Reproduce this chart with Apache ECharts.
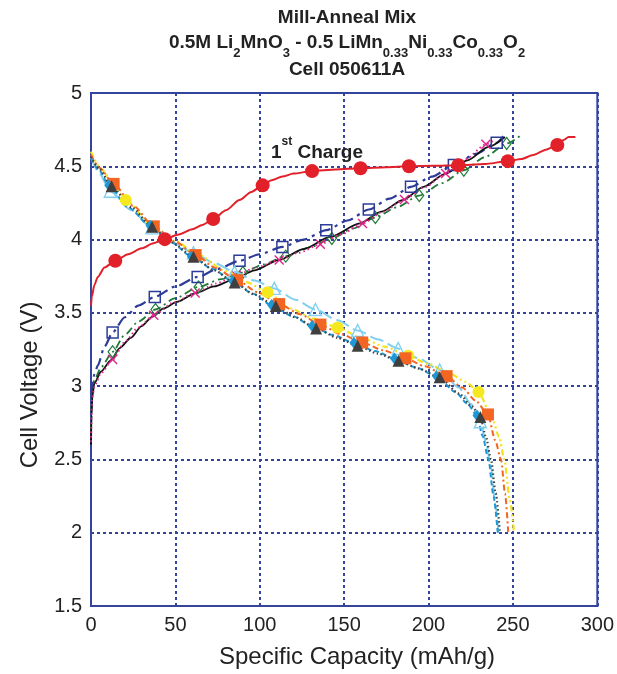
<!DOCTYPE html>
<html>
<head>
<meta charset="utf-8">
<script src="https://cdn.jsdelivr.net/npm/echarts@6/dist/echarts.min.js"></script>
<style>
html,body{margin:0;padding:0;background:#fff;}
#chart{width:617px;height:674px;}
</style>
</head>
<body>
<div id="chart"></div>
<script>
// ---------- DATA ----------
const xTicks = [0, 50, 100, 150, 200, 250, 300];
const yTicks = [1.5, 2, 2.5, 3, 3.5, 4, 4.5, 5];

// 1st charge (red, filled circles)
const charge1Curve = [[0,3.55],[0.5,3.61],[2,3.69],[4,3.745],[8,3.81],[14.4,3.855],[22,3.9],[30,3.94],[37,3.975],[43.7,4.003],[52,4.035],[60,4.07],[66,4.1],[72.4,4.14],[80,4.2],[88,4.27],[95,4.325],[101.7,4.37],[107,4.405],[113.4,4.43],[120,4.45],[131,4.467],[145,4.478],[159.7,4.487],[175,4.494],[188.4,4.5],[203,4.503],[217.7,4.507],[233,4.515],[247,4.535],[255,4.55],[262,4.577],[270,4.615],[276.3,4.645],[280,4.68],[283,4.7],[287,4.7]];
const charge1Marks = [[14.4,3.855],[43.7,4.003],[72.4,4.14],[101.7,4.37],[131,4.467],[159.7,4.487],[188.4,4.5],[217.7,4.507],[247,4.535],[276.3,4.645]];

// discharge curves
const disDarkCurve = [[0,4.565],[5,4.48],[12.2,4.364],[24,4.22],[36.2,4.087],[48,3.98],[60.7,3.882],[73,3.79],[85.1,3.707],[97,3.625],[109.5,3.546],[121,3.47],[133.4,3.394],[146,3.33],[158,3.275],[170,3.222],[182.2,3.173],[194,3.12],[206.6,3.06],[218,2.95],[225.8,2.86],[230.7,2.79],[234,2.654],[237,2.5],[239.8,2.27],[242.3,2.0]];
const disDarkMarks = [[12.2,4.364],[36.2,4.087],[60.7,3.882],[85.1,3.707],[109.5,3.546],[133.4,3.394],[158,3.275],[182.2,3.173],[206.6,3.06],[230.7,2.79]];

const disOrangeCurve = [[0,4.58],[5,4.49],[13.4,4.38],[25,4.23],[37.2,4.09],[50,3.985],[62,3.894],[74,3.805],[86.5,3.723],[99,3.64],[111.5,3.56],[124,3.49],[135.9,3.42],[148,3.355],[160.7,3.298],[173,3.245],[186.3,3.19],[198,3.135],[210.7,3.068],[220,2.99],[228,2.9],[235.2,2.807],[239.5,2.63],[243,2.496],[245.3,2.268],[247.2,2.006]];
const disOrangeMarks = [[13.4,4.38],[37.2,4.09],[62,3.894],[86.5,3.723],[111.5,3.56],[135.9,3.42],[160.7,3.298],[186.3,3.19],[210.7,3.068],[235.2,2.807]];

const disYellowCurve = [[0,4.6],[6,4.48],[13,4.39],[20.6,4.27],[35,4.11],[50,3.99],[63,3.9],[80,3.785],[92,3.71],[104.6,3.64],[118,3.53],[132,3.46],[146.1,3.4],[160,3.33],[174,3.27],[188,3.207],[200,3.15],[212,3.09],[222,3.03],[229.6,2.96],[237.5,2.79],[241.8,2.654],[244.9,2.5],[248.2,2.222],[250.6,2.006]];
const disYellowMarks = [[20.6,4.27],[104.6,3.64],[146.1,3.4],[188,3.207],[229.6,2.96]];

const disLightCurve = [[0,4.56],[5,4.45],[11.4,4.33],[24,4.2],[36,4.08],[48,3.98],[60.7,3.91],[73,3.84],[85,3.78],[97,3.72],[108.6,3.667],[121,3.59],[133,3.523],[146,3.45],[158,3.38],[170,3.32],[182,3.257],[194,3.19],[206.6,3.11],[218,2.99],[225,2.88],[230.7,2.757],[234,2.62],[237,2.45],[239.5,2.2],[241.4,2.0]];
const disLightMarks = [[11.4,4.33],[36,4.08],[60.7,3.91],[85,3.78],[108.6,3.667],[133,3.523],[158,3.38],[182,3.257],[206.6,3.11],[230.7,2.757]];

const disCyanCurve = [[0,4.555],[5,4.47],[10.5,4.37],[22,4.22],[35,4.095],[47,3.985],[59.5,3.885],[72,3.8],[84,3.715],[96,3.63],[107,3.553],[119,3.48],[131,3.41],[143,3.35],[155.8,3.296],[168,3.24],[179.8,3.189],[192,3.13],[204.7,3.068],[216,2.96],[223,2.88],[228.7,2.8],[232,2.66],[235.5,2.5],[238.5,2.25],[241,2.0]];
const disCyanMarks = [[10.5,4.37],[35,4.095],[59.5,3.885],[84,3.715],[107,3.553],[131,3.41],[155.8,3.296],[179.8,3.189],[204.7,3.068],[228.7,2.8]];

// later charge curves
const chBlueCurve = [[0,2.95],[0.5,3.0],[2,3.08],[4,3.14],[8,3.27],[12.8,3.366],[20,3.47],[28,3.55],[37.8,3.609],[50,3.68],[63.2,3.745],[75,3.8],[88,3.855],[100,3.9],[113.4,3.95],[126,4.0],[139.4,4.064],[152,4.13],[164.6,4.205],[177,4.28],[189.6,4.36],[202,4.43],[215,4.508],[228,4.585],[240.4,4.66],[244.3,4.705]];
const chBlueMarks = [[12.8,3.366],[37.8,3.609],[63.2,3.745],[88,3.855],[113.4,3.95],[139.4,4.064],[164.6,4.205],[189.6,4.36],[215,4.508],[240.4,4.66]];

const chBlackCurve = [[0,2.6],[0.3,2.8],[0.8,2.93],[2,3.02],[6,3.1],[11.8,3.177],[17,3.26],[23.6,3.33],[30,3.41],[36.2,3.473],[43,3.53],[50.9,3.575],[62,3.635],[73,3.68],[84.1,3.725],[97,3.79],[111.5,3.862],[126,3.935],[141.7,4.018],[159.3,4.11],[172,4.19],[184.8,4.27],[197,4.36],[210.1,4.45],[223,4.54],[235.5,4.632],[245.3,4.7]];

const chPinkCurve = [[0,2.62],[0.5,2.9],[2,3.0],[6,3.09],[12.8,3.182],[20,3.3],[28,3.4],[37.2,3.484],[49,3.57],[61.7,3.636],[74,3.7],[86,3.755],[98,3.81],[111.5,3.86],[123,3.91],[135.9,3.968],[148,4.035],[160.9,4.11],[173,4.19],[185.7,4.273],[198,4.36],[210.1,4.45],[222,4.55],[234,4.65],[239,4.68]];
const chPinkMarks = [[12.8,3.182],[37.2,3.484],[61.7,3.636],[86,3.755],[111.5,3.86],[135.9,3.968],[160.9,4.11],[185.7,4.273],[210.1,4.45],[234,4.65]];

const chGreenCurve = [[0,2.7],[0.5,2.95],[2,3.04],[6,3.13],[12.8,3.234],[20,3.35],[28,3.44],[38.2,3.523],[50,3.6],[63.7,3.677],[77,3.73],[90,3.775],[102,3.83],[115.4,3.887],[129,3.945],[142.7,4.007],[155,4.075],[168.5,4.15],[181,4.22],[194.5,4.3],[208,4.385],[220.9,4.473],[233,4.56],[246.3,4.655],[254,4.705]];
const chGreenMarks = [[12.8,3.234],[38.2,3.523],[63.7,3.677],[90,3.775],[115.4,3.887],[142.7,4.007],[168.5,4.15],[194.5,4.3],[220.9,4.473],[246.3,4.655]];

// ---------- CHART ----------
const FONT = 'Liberation Sans, Arial, Helvetica, sans-serif';
const GRID_BLUE = '#33449f';
const crossPath = 'path://M1,0 L5,4 L9,0 L10,1 L6,5 L10,9 L9,10 L5,6 L1,10 L0,9 L4,5 L0,1 Z';

function curve(data, color, type, width, z) {
  return { type: 'line', data: data, symbol: 'none', showSymbol: false, smooth: 0.25, smoothMonotone: 'x',
    lineStyle: { color: color, width: width, type: type }, z: z, silent: true };
}
function marks(data, symbol, size, fill, stroke, bw, z) {
  return { type: 'scatter', data: data, symbol: symbol, symbolSize: size, symbolKeepAspect: true,
    itemStyle: { color: fill, borderColor: stroke, borderWidth: bw, opacity: 1 }, z: z, silent: true };
}
const HOLLOW = 'rgba(255,255,255,0)';

const chart = echarts.init(document.getElementById('chart'), null, { renderer: 'canvas' });
chart.setOption({
  animation: false,
  backgroundColor: '#ffffff',
  grid: { left: 91, top: 93, right: 14, bottom: 68, show: true, borderColor: GRID_BLUE, borderWidth: 2, containLabel: false },
  xAxis: {
    type: 'value', min: xTicks[0], max: xTicks[xTicks.length - 1], interval: 50,
    axisLine: { show: true, lineStyle: { color: GRID_BLUE, width: 2 } },
    axisTick: { show: false },
    axisLabel: { color: '#222', fontSize: 20, fontFamily: FONT, margin: 9 },
    splitLine: { show: true, lineStyle: { color: GRID_BLUE, width: 2, type: [3, 3] } }
  },
  yAxis: {
    type: 'value', min: yTicks[0], max: yTicks[yTicks.length - 1], interval: 0.5,
    axisLine: { show: true, lineStyle: { color: GRID_BLUE, width: 2 } },
    axisTick: { show: false },
    axisLabel: { color: '#222', fontSize: 20, fontFamily: FONT, margin: 9 },
    splitLine: { show: true, lineStyle: { color: GRID_BLUE, width: 2, type: [3, 3] } }
  },
  series: [
    curve(chGreenCurve, '#1f7a37', [8, 4, 2, 4], 1.8, 3),
    curve(chBlueCurve, '#2d3c98', [12, 5, 3, 5], 2.2, 3),
    curve(chBlackCurve, '#111111', 'solid', 1.8, 3),
    curve(chPinkCurve, '#e0258a', [1.5, 3], 2, 3),
    marks(chGreenMarks, 'diamond', [9, 12], HOLLOW, '#1f7a37', 1.2, 4),
    marks(chBlueMarks, 'rect', 11, HOLLOW, '#2d3c98', 1.5, 4),
    marks(chPinkMarks, crossPath, 10, '#e0258a', '#e0258a', 0, 4),

    curve(disLightCurve, '#82d0f0', [14, 5], 2, 5),
    curve(disYellowCurve, '#f3e21c', [6, 3, 2, 3, 2, 3], 2.2, 5),
    curve(disOrangeCurve, '#f26522', [6, 3, 2, 3], 2, 5),
    curve(disCyanCurve, '#1e98d4', [5, 3], 2, 5),
    curve(disDarkCurve, '#444444', [1.5, 2.5], 2.2, 5),
    marks(disLightMarks, 'triangle', 12, HOLLOW, '#82d0f0', 1.4, 6),
    marks(disYellowMarks, 'circle', 12, '#f5e81e', '#f5e81e', 0, 6),
    marks(disOrangeMarks, 'rect', 12, '#f26522', '#f26522', 0, 6),
    marks(disCyanMarks, 'diamond', [9, 12], '#1e98d4', '#1e98d4', 0, 6),
    marks(disDarkMarks, 'triangle', 12, '#3f3f3f', '#3f3f3f', 0, 7),

    curve(charge1Curve, '#e2202a', 'solid', 2, 8),
    marks(charge1Marks, 'circle', 14, '#e2202a', '#e2202a', 0, 9)
  ],
  graphic: [
    { type: 'text', x: 347, y: 18, z: 20,
      style: { text: 'Mill-Anneal Mix', fill: '#222', font: 'bold 19px ' + FONT, align: 'center', verticalAlign: 'middle' } },
    { type: 'text', x: 347, y: 33, z: 20,
      style: {
        text: '{b|0.5M Li}{s|2}{b|MnO}{s|3}{b| - 0.5 LiMn}{s|0.33}{b|Ni}{s|0.33}{b|Co}{s|0.33}{b|O}{s|2}',
        align: 'center', verticalAlign: 'top', fill: '#222',
        rich: {
          b: { fontFamily: FONT, fontWeight: 'bold', fontSize: 19, lineHeight: 22, verticalAlign: 'top', fill: '#222' },
          s: { fontFamily: FONT, fontWeight: 'bold', fontSize: 13, lineHeight: 14, padding: [14, 0, 0, 0], verticalAlign: 'top', fill: '#222' }
        }
      } },
    { type: 'text', x: 347, y: 70, z: 20,
      style: { text: 'Cell 050611A', fill: '#222', font: 'bold 19px ' + FONT, align: 'center', verticalAlign: 'middle' } },
    { type: 'text', x: 271, y: 136, z: 20,
      style: {
        text: '{b|1}{u|st}{b| Charge}', align: 'left', verticalAlign: 'top', fill: '#222',
        rich: {
          b: { fontFamily: FONT, fontWeight: 'bold', fontSize: 19, lineHeight: 26, verticalAlign: 'bottom', fill: '#222' },
          u: { fontFamily: FONT, fontWeight: 'bold', fontSize: 12, lineHeight: 10, verticalAlign: 'top', fill: '#222' }
        }
      } },
    { type: 'text', x: 357, y: 657, z: 20,
      style: { text: 'Specific Capacity (mAh/g)', fill: '#222', font: '24px ' + FONT, align: 'center', verticalAlign: 'middle' } },
    { type: 'text', x: 30, y: 385, rotation: Math.PI / 2, z: 20,
      style: { text: 'Cell Voltage (V)', fill: '#222', font: '24px ' + FONT, align: 'center', verticalAlign: 'middle' } }
  ]
});
</script>
</body>
</html>
